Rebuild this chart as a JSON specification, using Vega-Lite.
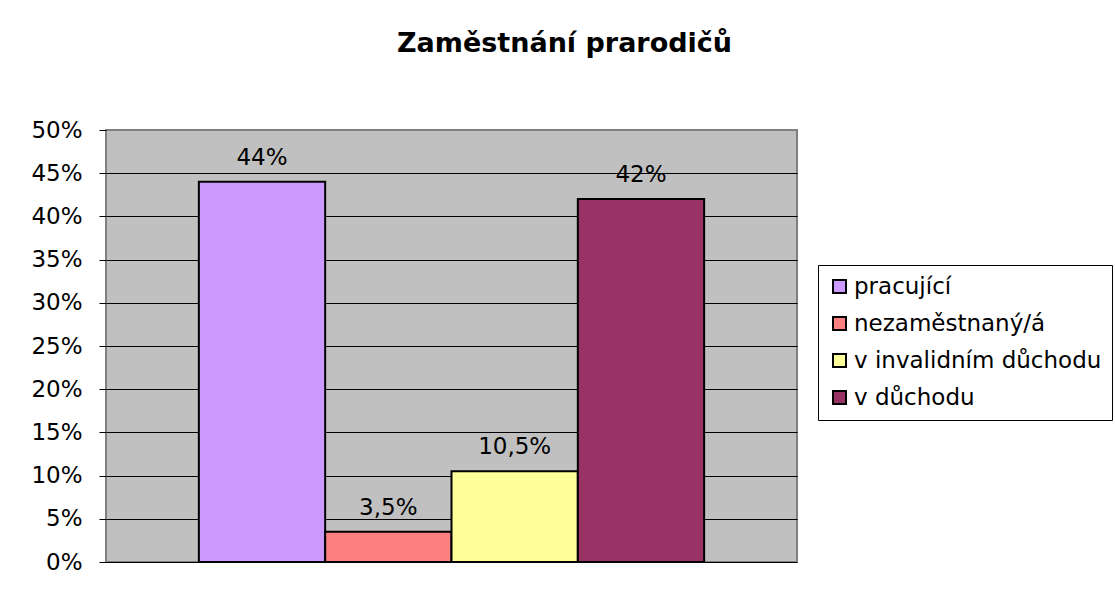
{
  "$schema": "https://vega.github.io/schema/vega-lite/v6.json",
  "autosize": "none",
  "width": 691,
  "height": 432,
  "padding": {"left": 106, "top": 130, "right": 318, "bottom": 42},
  "background": "white",
  "title": {
    "text": "Zaměstnání prarodičů",
    "font": "DejaVu Sans",
    "fontSize": 27,
    "fontWeight": "bold",
    "color": "black",
    "anchor": "middle",
    "frame": "group",
    "dx": 113,
    "baseline": "alphabetic",
    "offset": 40
  },
  "data": {
    "values": [
      {"kategorie": "pracující", "podil": 0.44},
      {"kategorie": "nezaměstnaný/á", "podil": 0.035},
      {"kategorie": "v invalidním důchodu", "podil": 0.105},
      {"kategorie": "v důchodu", "podil": 0.42}
    ]
  },
  "encoding": {
    "x": {
      "field": "kategorie",
      "type": "nominal",
      "sort": null,
      "axis": null,
      "scale": {"paddingInner": 0, "paddingOuter": 0.735}
    },
    "y": {
      "field": "podil",
      "type": "quantitative",
      "scale": {"domain": [0, 0.5], "nice": false},
      "axis": {
        "title": null,
        "format": ".0%",
        "values": [0, 0.05, 0.1, 0.15, 0.2, 0.25, 0.3, 0.35, 0.4, 0.45, 0.5],
        "domain": false,
        "ticks": true,
        "tickColor": "black",
        "tickSize": 7,
        "labelPadding": 17,
        "labelFont": "DejaVu Sans",
        "labelFontSize": 23,
        "labelColor": "black",
        "grid": true,
        "gridColor": {"condition": {"test": "datum.value >= 0.5", "value": "#808080"}, "value": "black"},
        "gridWidth": 1,
        "gridOpacity": 1
      }
    }
  },
  "layer": [
    {
      "mark": {"type": "bar", "stroke": "black", "strokeWidth": 2},
      "encoding": {
        "color": {
          "field": "kategorie",
          "type": "nominal",
          "scale": {
            "domain": ["pracující", "nezaměstnaný/á", "v invalidním důchodu", "v důchodu"],
            "range": ["#CC99FF", "#FF8080", "#FFFF99", "#993366"]
          },
          "legend": {
            "title": null,
            "orient": "none",
            "legendX": 712,
            "legendY": 135,
            "strokeColor": "black",
            "fillColor": "white",
            "padding": 10,
            "symbolType": "square",
            "symbolSize": 169,
            "symbolStrokeColor": "black",
            "symbolStrokeWidth": 2,
            "symbolOpacity": 1,
            "labelFont": "DejaVu Sans",
            "labelFontSize": 23,
            "labelColor": "black",
            "labelOffset": 3,
            "rowPadding": 13,
            "labelLimit": 400
          }
        }
      }
    },
    {
      "mark": {
        "type": "text",
        "font": "DejaVu Sans",
        "fontSize": 23,
        "color": "black",
        "baseline": "alphabetic",
        "dy": -17
      },
      "encoding": {
        "text": {"field": "podil", "type": "quantitative", "format": ".1~%"}
      }
    }
  ],
  "config": {
    "locale": {
      "number": {"decimal": ",", "thousands": " ", "grouping": [3], "currency": ["", " Kč"], "percent": "%"}
    },
    "view": {"fill": "#C0C0C0", "stroke": "#808080", "strokeWidth": 2}
  }
}
